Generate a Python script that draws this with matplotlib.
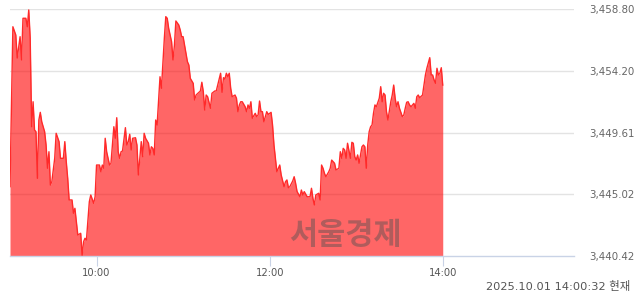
import matplotlib
matplotlib.use('Agg')
import matplotlib.pyplot as plt

# 코스피 장중 (분 단위, 09:00 기준 경과분)
minutes = [0, 2, 4, 5, 7, 8, 9, 11, 12, 13,
           14, 15, 16, 17, 18, 19, 20, 21, 22, 24,
           25, 26, 27, 28, 29, 31, 32, 34, 35, 37,
           38, 39, 40, 41, 43, 44, 45, 46, 47, 49,
           50, 51, 52, 53, 55, 56, 58, 59, 60, 62,
           63, 64, 65, 66, 67, 69, 70, 71, 72, 73,
           74, 75, 76, 77, 78, 80, 81, 82, 83, 84,
           85, 87, 88, 89, 91, 92, 93, 94, 96, 97,
           98, 99, 100, 101, 102, 104, 105, 107, 108, 109,
           110, 112, 113, 114, 115, 117, 118, 119, 120, 121,
           123, 124, 125, 127, 128, 129, 131, 132, 133, 134,
           135, 136, 137, 139, 140, 142, 143, 144, 146, 147,
           148, 149, 150, 151, 152, 153, 154, 156, 157, 158,
           159, 160, 161, 163, 164, 165, 166, 167, 168, 170,
           171, 172, 173, 174, 175, 176, 178, 179, 180, 181,
           182, 183, 185, 186, 187, 188, 190, 191, 192, 193,
           194, 196, 197, 198, 199, 201, 202, 203, 204, 206,
           207, 208, 209, 210, 211, 212, 214, 215, 216, 217,
           218, 219, 221, 222, 223, 224, 225, 226, 228, 229,
           230, 231, 232, 233, 234, 236, 237, 238, 239, 240,
           241, 242, 244, 245, 246, 247, 248, 249, 250, 251,
           252, 253, 254, 256, 257, 258, 259, 260, 261, 262,
           264, 265, 266, 267, 268, 269, 270, 272, 273, 274,
           275, 276, 277, 278, 280, 281, 282, 283, 284, 286,
           287, 288, 289, 291, 292, 293, 294, 295, 296, 297,
           298, 299, 300]

prices = [3445.58, 3457.48, 3456.87, 3455.15, 3456.74, 3455.01, 3458.11, 3458.11, 3457.48, 3458.73,
          3456.64, 3450.04, 3451.90, 3449.80, 3449.67, 3446.20, 3450.54, 3451.11, 3450.41, 3449.67,
          3448.68, 3446.95, 3448.18, 3445.70, 3445.95, 3447.69, 3449.55, 3448.93, 3447.69, 3447.69,
          3448.93, 3447.44, 3446.20, 3444.59, 3444.59, 3443.60, 3443.97, 3442.97, 3441.98, 3442.11,
          3440.45, 3441.48, 3441.74, 3441.61, 3444.46, 3444.96, 3444.34, 3444.83, 3447.19, 3447.19,
          3446.69, 3447.19, 3446.95, 3449.18, 3448.18, 3447.19, 3447.32, 3448.68, 3450.04, 3449.18,
          3450.71, 3448.18, 3447.69, 3448.18, 3448.23, 3449.97, 3448.68, 3448.93, 3449.48, 3448.31,
          3449.18, 3449.22, 3448.68, 3446.45, 3448.93, 3447.81, 3449.55, 3449.18, 3448.81, 3447.94,
          3448.55, 3448.43, 3447.94, 3450.54, 3450.17, 3453.76, 3452.90, 3456.62, 3458.23, 3458.11,
          3457.36, 3456.37, 3455.01, 3456.12, 3457.91, 3457.61, 3457.24, 3456.74, 3456.74, 3456.12,
          3454.88, 3454.63, 3453.64, 3453.27, 3452.03, 3452.40, 3452.60, 3452.70, 3453.35, 3452.65,
          3451.28, 3452.40, 3452.27, 3451.41, 3452.53, 3452.70, 3452.70, 3453.14, 3454.02, 3452.60,
          3453.69, 3453.59, 3454.02, 3453.76, 3454.02, 3452.90, 3452.27, 3452.40, 3452.16, 3451.16,
          3451.66, 3451.90, 3451.90, 3451.53, 3451.16, 3451.66, 3451.41, 3451.90, 3450.67, 3451.04,
          3450.79, 3450.91, 3451.95, 3451.16, 3451.16, 3450.41, 3451.16, 3450.96, 3451.04, 3451.11,
          3450.17, 3448.68, 3446.69, 3446.95, 3447.19, 3446.45, 3445.58, 3445.95, 3446.08, 3445.50,
          3445.58, 3446.00, 3446.32, 3445.83, 3445.22, 3444.83, 3445.33, 3444.96, 3445.21, 3444.83,
          3444.83, 3444.83, 3445.46, 3444.71, 3444.22, 3444.96, 3445.09, 3444.59, 3447.19, 3446.95,
          3446.57, 3446.32, 3446.69, 3446.95, 3447.56, 3447.44, 3447.32, 3446.82, 3446.95, 3448.18,
          3447.69, 3448.43, 3448.31, 3447.69, 3448.81, 3447.69, 3448.88, 3448.81, 3447.81, 3447.56,
          3447.94, 3447.32, 3448.55, 3448.68, 3448.55, 3446.95, 3448.68, 3449.67, 3450.04, 3450.17,
          3451.04, 3451.66, 3451.53, 3452.16, 3453.02, 3451.90, 3452.53, 3452.40, 3451.16, 3450.54,
          3451.90, 3452.40, 3453.14, 3452.16, 3451.53, 3451.90, 3451.41, 3450.79, 3450.91, 3451.41,
          3451.86, 3451.90, 3451.66, 3451.53, 3451.78, 3451.41, 3452.27, 3452.40, 3452.20, 3452.40,
          3453.14, 3453.89, 3454.39, 3455.18, 3453.89, 3453.89, 3453.52, 3453.27, 3454.39, 3453.89,
          3454.02, 3454.43, 3453.14]

y_ticks = [3440.42, 3445.02, 3449.61, 3454.20, 3458.80]
x_ticks = [60, 180, 300]
x_labels = ['10:00', '12:00', '14:00']
stamp = '2025.10.01 14:00:32 현재'
watermark = '서울경제'

fig = plt.figure(figsize=(6.4, 2.94), dpi=100)
ax = fig.add_axes([10 / 640, 38 / 294, 564 / 640, 247 / 294])

# 면 + 선
ax.fill_between(minutes, prices, y_ticks[0], color='red', alpha=0.6, linewidth=0, zorder=2)
ax.plot(minutes, prices, color='#ff2a2a', linewidth=1.0, zorder=3)

ax.set_xlim(0, 391)
ax.set_ylim(y_ticks[0], y_ticks[-1])

# 그리드
for v in y_ticks[1:]:
    ax.axhline(v, color='#e3e3e3', linewidth=1, zorder=1)

for s in ['top', 'left', 'right']:
    ax.spines[s].set_visible(False)
ax.spines['bottom'].set_color('#c9d3e6')
ax.spines['bottom'].set_linewidth(1)
ax.spines['bottom'].set_zorder(4)

ax.set_xticks(x_ticks)
ax.set_xticklabels(x_labels)
ax.tick_params(axis='x', length=7, width=0.8, color='#c9d3e6', pad=2,
               labelsize=7.2, labelcolor='#555555')

ax.yaxis.tick_right()
ax.set_yticks(y_ticks)
ax.set_yticklabels([f'{v:,.2f}' for v in y_ticks])
ax.tick_params(axis='y', length=0, pad=11, labelsize=7.4, labelcolor='#666666')
for lab in ax.get_yticklabels():
    lab.set_horizontalalignment('left')

fig.text(345 / 640, 1 - 235 / 294, watermark, fontsize=22, fontweight='bold',
         family=['Noto Sans CJK KR'], color='#505050', alpha=0.45,
         ha='center', va='center', zorder=5)

fig.text(630 / 640, 1 - 286 / 294, stamp, fontsize=8.2, color='#555555',
         family=['DejaVu Sans', 'Noto Sans CJK KR'], ha='right', va='center')

fig.savefig('out.png', dpi=100)
